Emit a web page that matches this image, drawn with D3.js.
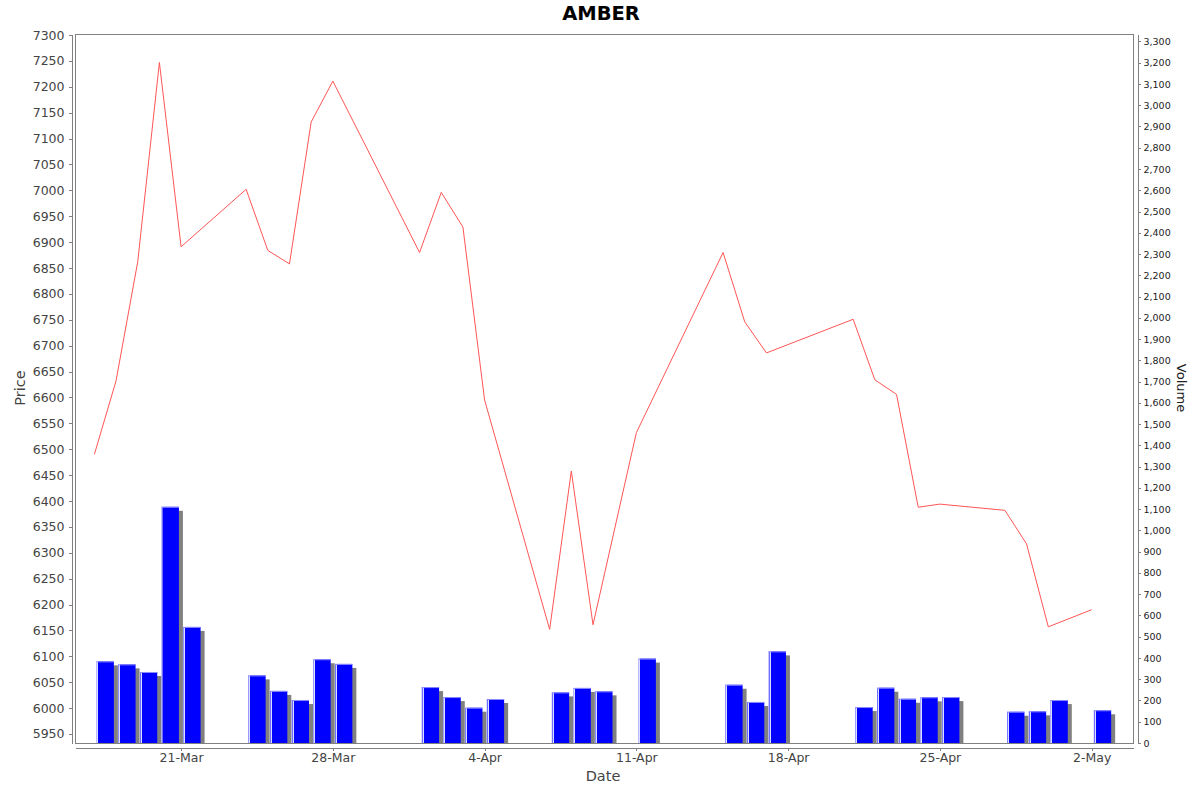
<!DOCTYPE html>
<html>
<head>
<meta charset="utf-8">
<script src="https://cdn.jsdelivr.net/npm/d3@7"></script>
<style>
    body { margin: 0; background: #fff; }
    .axis text { font-family: "DejaVu Sans", sans-serif; }
    .axis path, .axis line { stroke: #808080; shape-rendering: crispEdges; }
</style>
</head>
<body>
<div id="chart-area"></div>
<script>

// trading days (daily bars)
var dates = ["2025-03-17", "2025-03-18", "2025-03-19", "2025-03-20", "2025-03-21",
    "2025-03-24", "2025-03-25", "2025-03-26", "2025-03-27", "2025-03-28",
    "2025-04-01", "2025-04-02", "2025-04-03", "2025-04-04",
    "2025-04-07", "2025-04-08", "2025-04-09",
    "2025-04-11",
    "2025-04-15", "2025-04-16", "2025-04-17",
    "2025-04-21", "2025-04-22", "2025-04-23", "2025-04-24", "2025-04-25",
    "2025-04-28", "2025-04-29", "2025-04-30",
    "2025-05-02"];

// closing price (left axis)
var prices = [6490, 6632, 6862, 7247, 6891,
    7002, 6884, 6858, 7132, 7211,
    6880, 6996, 6929, 6595,
    6152, 6458, 6161,
    6532,
    6880, 6746, 6686,
    6751, 6634, 6606, 6388, 6394,
    6382, 6317, 6157,
    6190];

// volume (right axis)
var volumes = [384, 370, 334, 1111, 546,
    318, 245, 202, 394, 372,
    263, 216, 166, 207,
    238, 259, 243,
    397,
    274, 193, 431,
    169, 260, 208, 215, 216,
    147, 149, 202,
    154];

var dateTicks = ["2025-03-21", "2025-03-28", "2025-04-04", "2025-04-11", "2025-04-18", "2025-04-25", "2025-05-02"];


PriceVolumeVis = function(_parentElement){
    this.parentElement = _parentElement;
    this.initVis();
}

PriceVolumeVis.prototype.initVis = function(){
    var vis = this;

    vis.margin = { top: 34, right: 66, bottom: 49, left: 75 };
    vis.width = 1200 - vis.margin.left - vis.margin.right;
    vis.height = 792 - vis.margin.top - vis.margin.bottom;

    vis.root = d3.select("#" + vis.parentElement).append("svg")
        .attr("width", 1200)
        .attr("height", 792);

    vis.svg = vis.root.append("g")
        .attr("transform", "translate(" + vis.margin.left + "," + vis.margin.top + ")");

    var parseDate = d3.timeParse("%Y-%m-%d");
    var parseTime = d3.timeParse("%Y-%m-%d %H:%M");

    vis.data = dates.map(function(d, i){
        return { date: parseDate(d), price: prices[i], volume: volumes[i] };
    });

    // scales
    vis.x = d3.scaleTime()
        .domain([parseTime("2025-03-16 03:07"), parseTime("2025-05-03 22:20")])
        .range([0.5, vis.width - 0.5]);

    vis.yPrice = d3.scaleLinear()
        .domain([5932.6, 7302])
        .range([vis.height, 0]);

    vis.yVol = d3.scaleLinear()
        .domain([0, 3335])
        .range([vis.height, 0]);

    // bar gradient (lighter strip on the left edge)
    var grad = vis.root.append("defs").append("linearGradient")
        .attr("id", "barGrad")
        .attr("x1", 0).attr("x2", 1).attr("y1", 0).attr("y2", 0);
    [["0%", "#6f6fff"], ["5.5%", "#6f6fff"], ["5.5%", "#dcdcff"], ["11%", "#dcdcff"],
     ["11%", "#0000ff"], ["100%", "#0000ff"]].forEach(function(s){
        grad.append("stop").attr("offset", s[0]).attr("stop-color", s[1]);
    });

    // plot border
    vis.svg.append("rect")
        .attr("x", 0.5)
        .attr("y", 0.5)
        .attr("width", vis.width - 1)
        .attr("height", vis.height)
        .attr("fill", "none")
        .attr("stroke", "#808080");

    // axes
    vis.yAxisLeft = d3.axisLeft(vis.yPrice)
        .tickValues(d3.range(5950, 7301, 50))
        .tickFormat(d3.format("d"))
        .tickSize(3).tickSizeOuter(0).tickPadding(4);

    vis.yAxisRight = d3.axisRight(vis.yVol)
        .tickValues(d3.range(0, 3301, 100))
        .tickFormat(d3.format(","))
        .tickSize(3).tickSizeOuter(0).tickPadding(3);

    vis.xAxis = d3.axisBottom(vis.x)
        .tickValues(dateTicks.map(parseDate))
        .tickFormat(d3.timeFormat("%-d-%b"))
        .tickSize(3).tickSizeOuter(0).tickPadding(3);

    vis.svg.append("g")
        .attr("class", "y-axis axis")
        .attr("transform", "translate(-3.5,0)")
        .call(vis.yAxisLeft)
        .selectAll("text")
            .style("font-size", "12.5px")
            .attr("fill", "#444");

    vis.svg.append("g")
        .attr("class", "y2-axis axis")
        .attr("transform", "translate(" + (vis.width + 3.5) + ",0)")
        .call(vis.yAxisRight)
        .selectAll("text")
            .style("font-size", "9.5px")
            .attr("fill", "#222");

    vis.svg.append("g")
        .attr("class", "x-axis axis")
        .attr("transform", "translate(0," + (vis.height + 4.5) + ")")
        .call(vis.xAxis)
        .selectAll("text")
            .style("font-size", "12.5px")
            .attr("fill", "#444");

    // titles
    vis.root.append("text")
        .attr("x", 601)
        .attr("y", 20)
        .attr("text-anchor", "middle")
        .style("font-family", "DejaVu Sans, sans-serif")
        .style("font-weight", "bold")
        .style("font-size", "19.5px")
        .text("AMBER");

    vis.root.append("text")
        .attr("transform", "translate(25,388) rotate(-90)")
        .attr("text-anchor", "middle")
        .style("font-family", "DejaVu Sans, sans-serif")
        .style("font-size", "14.5px")
        .attr("fill", "#444")
        .text("Price");

    vis.root.append("text")
        .attr("x", 603)
        .attr("y", 781)
        .attr("text-anchor", "middle")
        .style("font-family", "DejaVu Sans, sans-serif")
        .style("font-size", "14.5px")
        .attr("fill", "#444")
        .text("Date");

    vis.root.append("text")
        .attr("transform", "translate(1177,388) rotate(90)")
        .attr("text-anchor", "middle")
        .style("font-family", "DejaVu Sans, sans-serif")
        .style("font-size", "13px")
        .attr("fill", "#222")
        .text("Volume");

    vis.updateVis();
}

PriceVolumeVis.prototype.updateVis = function(){
    var vis = this;

    var dayW = function(d){ return vis.x(d3.timeDay.offset(d, 1)) - vis.x(d); };

    // volume bars: shadow first, then the bar
    var bars = vis.svg.selectAll(".bar-group")
        .data(vis.data)
        .enter().append("g")
        .attr("class", "bar-group");

    bars.append("rect")
        .attr("class", "shadow")
        .attr("x", function(d){ return vis.x(d.date) + dayW(d.date) * 0.1 + 4; })
        .attr("y", function(d){ return vis.yVol(d.volume) + 4; })
        .attr("width", function(d){ return dayW(d.date) * 0.8; })
        .attr("height", function(d){ return vis.height - vis.yVol(d.volume) - 4; })
        .attr("fill", "#808080");

    bars.append("rect")
        .attr("class", "bar")
        .attr("x", function(d){ return vis.x(d.date) + dayW(d.date) * 0.1; })
        .attr("y", function(d){ return vis.yVol(d.volume); })
        .attr("width", function(d){ return dayW(d.date) * 0.8; })
        .attr("height", function(d){ return vis.height - vis.yVol(d.volume); })
        .attr("fill", "url(#barGrad)");

    bars.append("line")
        .attr("x1", function(d){ return vis.x(d.date) + dayW(d.date) * 0.1; })
        .attr("x2", function(d){ return vis.x(d.date) + dayW(d.date) * 0.9; })
        .attr("y1", function(d){ return vis.yVol(d.volume) + 0.5; })
        .attr("y2", function(d){ return vis.yVol(d.volume) + 0.5; })
        .attr("stroke", "#8c8cff")
        .attr("stroke-width", 1);

    // price line
    var line = d3.line()
        .x(function(d){ return vis.x(d.date); })
        .y(function(d){ return vis.yPrice(d.price); });

    vis.svg.append("path")
        .datum(vis.data)
        .attr("class", "price-line")
        .attr("d", line)
        .attr("fill", "none")
        .attr("stroke", "#ff5555")
        .attr("stroke-width", 1);
}

var chart = new PriceVolumeVis("chart-area");

</script>
</body>
</html>
